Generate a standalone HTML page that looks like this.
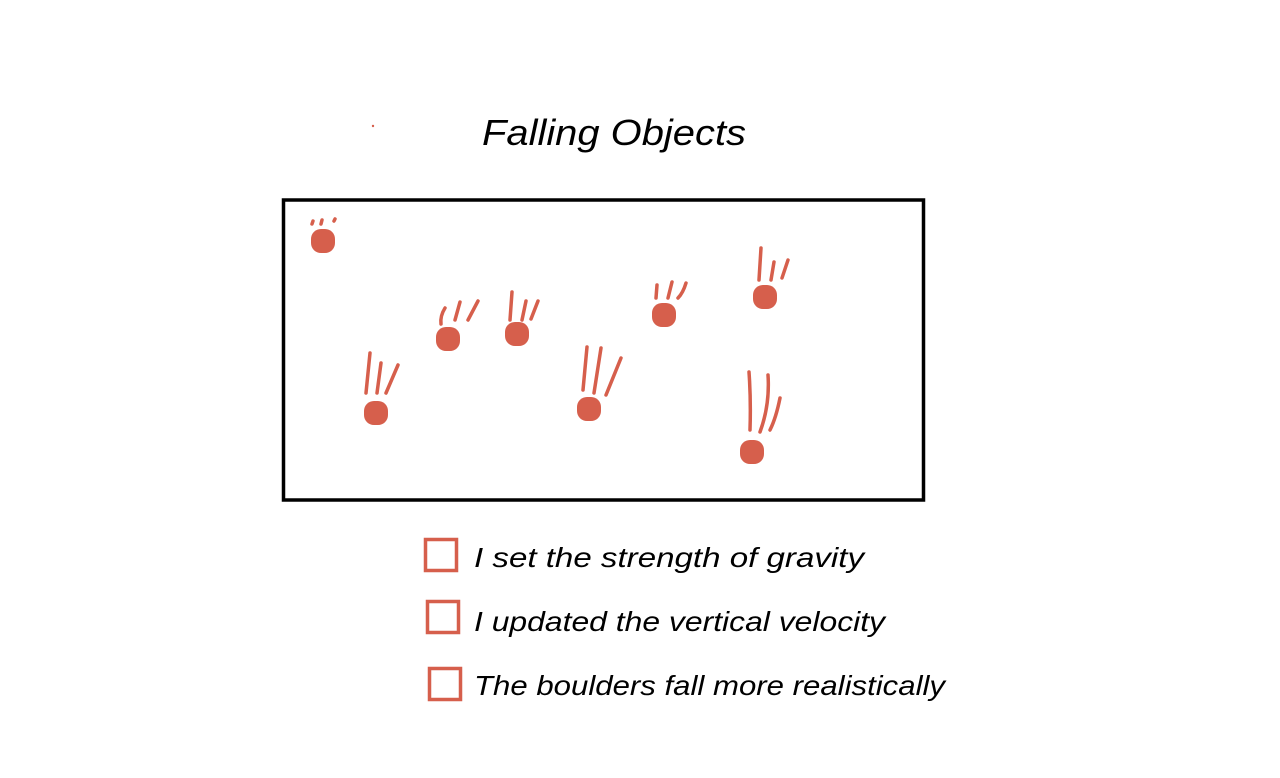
<!DOCTYPE html>
<html><head><meta charset="utf-8"><style>
html,body{margin:0;padding:0;background:#fff;width:1280px;height:778px;overflow:hidden}
svg{display:block}
text{font-family:"Liberation Sans",sans-serif;font-style:italic;fill:#000}
</style></head><body>
<svg width="1280" height="778" viewBox="0 0 1280 778">
<text x="482" y="145" font-size="36" textLength="264" lengthAdjust="spacingAndGlyphs">Falling Objects</text>
<circle cx="373" cy="126" r="1.2" fill="#d65f4c"/>
<rect x="283.5" y="200" width="640" height="300" fill="none" stroke="#000" stroke-width="3.5"/>
<g fill="#d65f4c">
<rect x="311" y="229" width="24" height="24" rx="10"/><rect x="364" y="401" width="24" height="24" rx="10"/><rect x="436" y="327" width="24" height="24" rx="10"/>
<rect x="505" y="322" width="24" height="24" rx="10"/><rect x="577" y="397" width="24" height="24" rx="10"/><rect x="652" y="303" width="24" height="24" rx="10"/>
<rect x="753" y="285" width="24" height="24" rx="10"/><rect x="740" y="440" width="24" height="24" rx="10"/>
</g>
<g stroke="#d65f4c" stroke-width="3.5" stroke-linecap="round" fill="none">
<path d="M312 224L313 221M321 224L322 220M334 221L335 219"/>
<path d="M370 353L366 393M381 363L377 393M398 365L386 393"/>
<path d="M445 308Q440 316 441 324M460 302L455 320M478 301L468 320"/>
<path d="M512 292L510 320M526 301L522 320M538 301L531 319"/>
<path d="M587 347L583 390M601 348L594 393M621 358L606 395"/>
<path d="M657 285L656 298M672 282L668 298M686 283Q683 293 678 298"/>
<path d="M761 248L759 280M774 262L771 280M788 260L782 278"/>
<path d="M749 372Q751 400 750 430M768 375Q770 405 760 432M780 398Q776 418 770 430"/>
</g>
<g fill="none" stroke="#d65f4c" stroke-width="3.5">
<rect x="425.5" y="539.5" width="31" height="31"/>
<rect x="427.5" y="601.5" width="31" height="31"/>
<rect x="429.5" y="668.5" width="31" height="31"/>
</g>
<text x="474" y="567" font-size="28" textLength="390" lengthAdjust="spacingAndGlyphs">I set the strength of gravity</text>
<text x="474" y="631" font-size="28" textLength="411" lengthAdjust="spacingAndGlyphs">I updated the vertical velocity</text>
<text x="474" y="695" font-size="28" textLength="471" lengthAdjust="spacingAndGlyphs">The boulders fall more realistically</text>
</svg>
</body></html>
